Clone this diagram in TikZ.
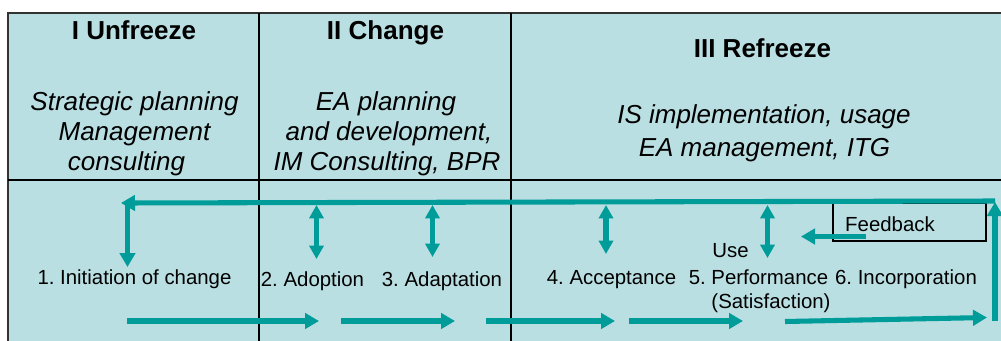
\documentclass[tikz,border=0pt]{standalone}
\usepackage{fontspec}
\setmainfont{Liberation Sans}
\usetikzlibrary{arrows.meta}
\definecolor{panel}{HTML}{BADFE2}
\definecolor{teal2}{HTML}{009C9A}
\frenchspacing
\tikzset{
  hdr/.style={anchor=base, font=\fontsize{19.5}{23}\selectfont\bfseries},
  sub/.style={anchor=base, font=\fontsize{19.5}{23}\selectfont\itshape},
  lbl/.style={anchor=base, font=\fontsize{15.3}{18}\selectfont},
  flow/.style={draw=teal2, line width=3.8pt, -{Triangle[length=10.5pt,width=11.5pt]}},
  dflow/.style={draw=teal2, line width=3.8pt, {Triangle[length=10pt,width=10.5pt]}-{Triangle[length=10pt,width=10.5pt]}},
}
\begin{document}
\begin{tikzpicture}[x=0.75pt,y=-0.75pt]
\useasboundingbox (0,0) rectangle (1001,340);
\clip (0,0) rectangle (1001,340);
% panel
\fill[panel] (8,13) rectangle (1010,350);
\draw[line width=1.6pt, black!80] (8,350) -- (8,13) -- (1010,13);
\draw[line width=0.9pt] (259,13) -- (259,350);
\draw[line width=0.9pt] (511,13) -- (511,350);
\draw[line width=0.9pt] (8,180) -- (1010,180);
% headers
\node[hdr] (h1) at (134,39) {I Unfreeze};
\node[hdr] (h2) at (385.5,39) {II Change};
\node[hdr] (h3) at (762.5,57) {III Refreeze};
\node[sub] (s1a) at (134.5,110) {Strategic planning};
\node[sub] (s1b) at (134.5,140) {Management};
\node[sub] (s1c) at (126.5,170) {consulting};
\node[sub] (s2a) at (386,110) {EA planning};
\node[sub] (s2b) at (389,140) {and development,};
\node[sub] (s2c) at (387,170) {IM Consulting, BPR};
\node[sub] (s3a) at (764,123) {IS implementation, usage};
\node[sub] (s3b) at (764.5,156) {EA management, ITG};
% stage labels
\node[lbl] (l1) at (134.5,284) {1. Initiation of change};
\node[lbl] (l2) at (312.5,286) {2. Adoption};
\node[lbl] (l3) at (442,286) {3. Adaptation};
\node[lbl] (l4) at (611.5,284) {4. Acceptance};
\node[lbl] (l5) at (758.5,284) {5. Performance};
\node[lbl] (l6) at (906,284) {6. Incorporation};
\node[lbl] (use) at (730.5,257) {Use};
\node[lbl] (sat) at (771,308) {(Satisfaction)};
% feedback box
\node[draw=black, line width=0.8pt, minimum width=114.75pt, minimum height=28.5pt, inner sep=0pt] (fbbox) at (909.5,222) {};
\node[lbl] (fb) at (890,231) {Feedback};
% coordinates
\coordinate (fbs) at (865.5,236.5);
\coordinate (fbe) at (801,236.5);
\coordinate (tr) at (995,201);
\coordinate (tl) at (121,203);
\coordinate (d1t) at (127.5,203);
\coordinate (d1b) at (127.5,267);
\coordinate (a2t) at (316.5,205);
\coordinate (a2b) at (316.5,259);
\coordinate (a3t) at (432.5,205);
\coordinate (a3b) at (432.5,257);
\coordinate (a4t) at (606,205);
\coordinate (a4b) at (606,254);
\coordinate (a5t) at (767.5,205);
\coordinate (a5b) at (767.5,258);
\coordinate (rvb) at (995,321);
\coordinate (rvt) at (995,202);
\coordinate (b1s) at (127,321);
\coordinate (b1e) at (319,321);
\coordinate (b2s) at (341,321);
\coordinate (b2e) at (455,321);
\coordinate (b3s) at (486,321);
\coordinate (b3e) at (615,321);
\coordinate (b4s) at (629,321);
\coordinate (b4e) at (743,321);
\coordinate (b5s) at (785,321.5);
\coordinate (b5e) at (987,317.5);
% connectors
\draw[flow] (tr) -- (tl);
\draw[flow] (d1t) -- (d1b);
\draw[dflow] (a2t) -- (a2b);
\draw[dflow] (a3t) -- (a3b);
\draw[dflow] (a4t) -- (a4b);
\draw[dflow] (a5t) -- (a5b);
\draw[flow] (fbs) -- (fbe);
\draw[flow] (rvb) -- (rvt);
\draw[flow] (b1s) -- (b1e);
\draw[flow] (b2s) -- (b2e);
\draw[flow] (b3s) -- (b3e);
\draw[flow] (b4s) -- (b4e);
\draw[flow] (b5s) -- (b5e);
\end{tikzpicture}
\end{document}
